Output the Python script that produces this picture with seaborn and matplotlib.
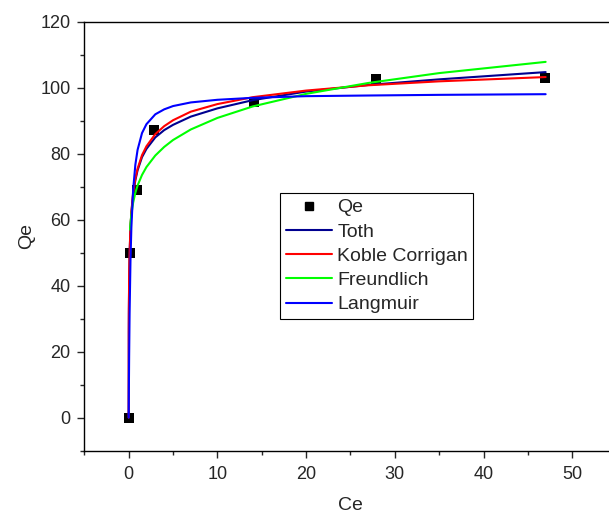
import numpy as np
import pandas as pd
import matplotlib
matplotlib.use("Agg")
import matplotlib.pyplot as plt
import seaborn as sns
from matplotlib.lines import Line2D
from matplotlib.ticker import MultipleLocator

# Experimental data
ce_data = [0.05, 0.17, 0.92, 2.85, 14.15, 27.9, 46.9]
qe_data = [0.0, 49.8, 69.0, 87.2, 95.8, 102.6, 103.0]

# Model curves
ce_curve = [0, 0.01, 0.02, 0.05, 0.1, 0.2, 0.3, 0.5, 0.75, 1, 1.5, 2, 3, 4, 5, 7, 10, 14, 20, 27, 35, 47]
toth = [0, 26.0, 32.0, 41.5, 49.5, 57.5, 62.0, 67.8, 72.0, 75.0, 79.0, 81.5, 85.0, 87.2, 88.8, 91.3, 93.8, 96.3, 98.9, 100.9, 102.6, 104.8]
koble = [0, 27.1, 33.2, 42.4, 49.9, 57.8, 62.4, 68.2, 72.5, 75.5, 79.6, 82.3, 86.0, 88.4, 90.2, 92.8, 95.1, 97.2, 99.2, 100.8, 102.0, 103.3]
langmuir = [0, 4.5, 8.6, 18.7, 31.5, 47.7, 57.6, 69.1, 76.7, 81.2, 86.3, 89.0, 92.0, 93.5, 94.5, 95.6, 96.4, 97.0, 97.5, 97.7, 97.9, 98.1]
ce_freund = [0.15, 0.2, 0.3, 0.5, 0.75, 1, 1.5, 2, 3, 4, 5, 7, 10, 14, 20, 27, 35, 47]
freundlich = [57.0, 58.9, 61.6, 65.2, 68.2, 70.4, 73.6, 76.0, 79.5, 82.1, 84.2, 87.4, 90.9, 94.4, 98.2, 101.5, 104.5, 107.9]

labels = ["Qe", "Toth", "Koble Corrigan", "Freundlich", "Langmuir"]
colors = {"Toth": "#000090", "Koble Corrigan": "#FF0000", "Freundlich": "#00FF00", "Langmuir": "#0000FF"}

sns.set_style("ticks")
plt.rcParams["font.family"] = ["Liberation Sans", "DejaVu Sans"]

fig = plt.figure(figsize=(6.09, 5.14), dpi=100)
ax = fig.add_axes([0.1385, 0.1235, 0.874, 0.8337])

sns.scatterplot(x=ce_data, y=qe_data, ax=ax, marker="s", s=46, color="black",
                edgecolor="black", linewidth=0, zorder=2, legend=False)

curves = [("Toth", ce_curve, toth), ("Koble Corrigan", ce_curve, koble),
          ("Freundlich", ce_freund, freundlich), ("Langmuir", ce_curve, langmuir)]
for name, xs, ys in curves:
    sns.lineplot(x=xs, y=ys, ax=ax, color=colors[name], linewidth=1.5,
                 sort=False, estimator=None, zorder=3, legend=False)

ax.set_xlim(-5, 55)
ax.set_ylim(-10, 120)
ax.xaxis.set_minor_locator(MultipleLocator(5))
ax.yaxis.set_minor_locator(MultipleLocator(10))
ax.set_xticks([0, 10, 20, 30, 40, 50])
ax.set_yticks([0, 20, 40, 60, 80, 100, 120])
ax.tick_params(axis="x", which="major", direction="out", length=5, width=1, labelsize=13, pad=6)
ax.tick_params(axis="y", which="major", direction="out", length=5, width=1, labelsize=13, pad=5)
ax.tick_params(which="minor", direction="out", length=3, width=1)
ax.tick_params(top=False, right=False)
for sp in ax.spines.values():
    sp.set_visible(True)
    sp.set_linewidth(1.0)
    sp.set_color("black")

ax.set_xlabel("Ce", fontsize=14, labelpad=10)
ax.set_ylabel("Qe", fontsize=14, labelpad=4)

handles = [Line2D([], [], marker="s", color="black", linestyle="none", markersize=6)]
for name in labels[1:]:
    handles.append(Line2D([], [], color=colors[name], linewidth=1.5))
leg = ax.legend(handles, labels, loc="upper left", bbox_to_anchor=(0.368, 0.600),
                borderaxespad=0, fontsize=14, frameon=True, fancybox=False,
                edgecolor="black", handlelength=2.4, handletextpad=0.25,
                labelspacing=0.34, borderpad=0.28)
leg.get_frame().set_linewidth(0.8)
leg.get_frame().set_alpha(1)

fig.savefig("out.png", dpi=100)
